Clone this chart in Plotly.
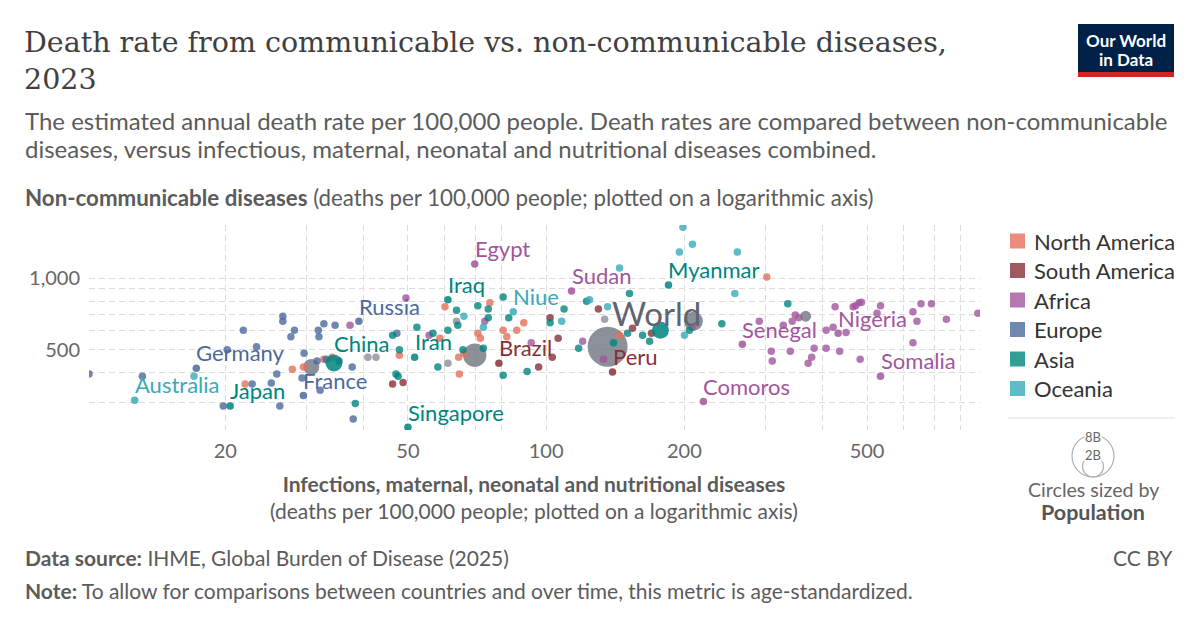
import numpy as np
import plotly.graph_objects as go

# plot area of the reference, in pixels (used only for placing the frame and the text around it)
PL, PR, PT, PB = 89, 980, 225, 430

region_names = ["North America", "South America", "Africa", "Europe", "Asia", "Oceania"]
region_colors = {
    "North America": "#E56E5A",
    "South America": "#883039",
    "Africa": "#A2559C",
    "Europe": "#4C6A9C",
    "Asia": "#00847E",
    "Oceania": "#38AABA",
}

# -------------------------------------------------
# Data: x = infectious/maternal/neonatal/nutritional deaths per 100k,
#       y = non-communicable deaths per 100k (age-standardized, 2023)
# -------------------------------------------------
north_america_x = [22.1, 28.0, 29.6, 32.8, 34.2, 47.9, 58.7, 60.2, 64.7, 64.5, 66.2, 71.0, 71.9, 75.4,
                   80.6, 82.1, 86.3, 89.4, 144.5, 302.4]
north_america_y = [359, 414, 423, 456, 465, 474, 559, 757, 395, 465, 483, 586, 559, 787,
                   603, 567, 603, 649, 575, 1010]

south_america_x = [46.3, 48.8, 96.3, 102.0, 103.1, 106.2, 130.0, 154.2, 169.6]
south_america_y = [359, 364, 423, 681, 465, 559, 742, 615, 586]

africa_x = [37.4, 49.5, 55.6, 73.5, 92.8, 120.1, 133.4, 208.3, 291.2, 309.3, 310.8, 328.5, 340.2,
            343.6, 348.8, 354.9, 372.1, 378.7, 383.5, 407.3, 407.3, 421.8, 435.7, 450.1, 426.0,
            466.3, 472.1, 480.4, 486.4, 483.0, 525.7, 535.0, 629.5, 629.5, 642.2, 655.2, 690.5,
            744.3, 871.6]
africa_y = [633, 825, 575, 658, 535, 543, 456, 621, 658, 493, 448, 633, 493,
            658, 700, 681, 439, 465, 507, 507, 603, 621, 493, 590, 757,
            757, 764, 787, 792, 456, 711, 764, 535, 721, 658, 779, 779,
            671, 711]

europe_x = [10.1, 13.2, 19.8, 20.2, 21.9, 22.9, 23.4, 25.2, 25.9, 26.3, 26.7, 26.7, 28.3, 27.8,
            29.7, 29.4, 31.9, 32.0, 32.8, 34.7, 33.2, 35.4, 31.7, 32.2, 37.8, 38.0, 47.3]
europe_y = [395, 387, 290, 500, 603, 359, 515, 362, 395, 290, 691, 658, 603, 567,
            483, 380, 603, 567, 642, 633, 456, 448, 448, 338, 423, 256, 586]

asia_x = [38.4, 46.3, 47.1, 47.6, 47.9, 52.3, 56.7, 58.1, 61.1, 63.8, 64.2, 65.9, 71.0, 74.8,
          74.8, 73.0, 80.6, 80.6, 82.9, 90.9, 102.0, 109.4, 117.7, 122.5, 140.2, 150.4, 151.9,
          162.2, 168.0, 205.1, 241.4, 336.0]
asia_y = [297, 575, 395, 387, 500, 621, 586, 423, 603, 732, 633, 500, 764, 742,
          681, 507, 833, 391, 681, 405, 649, 742, 507, 798, 535, 586, 862,
          575, 543, 603, 642, 779]

oceania_x = [17.1, 66.2, 73.0, 108.1, 124.3, 136.1, 144.5, 198.6, 208.3, 195.1, 260.9, 257.6, 200.1]
oceania_y = [387, 691, 621, 658, 810, 757, 1102, 1635, 1388, 1285, 1285, 862, 575]

# entities without a continent
other_x = [40.9, 42.6, 61.1, 63.8, 134.1]
other_y = [465, 465, 439, 658, 671]

# aggregates (grey bubbles), population in millions
aggregate_names = ["World", "Aggregate A", "Aggregate B", "Aggregate C", "Aggregate D"]
aggregate_x = [136.1, 69.9, 30.8, 209.3, 367.5]
aggregate_y = [515, 474, 423, 658, 691]
aggregate_pop = [8000, 2700, 1280, 1800, 600]

# labelled countries (and India, which sits under the "World" label)
named_country = ["Egypt", "Sudan", "Myanmar", "Niue", "Iraq", "Russia", "Germany", "China", "Iran",
                 "Brazil", "Peru", "Senegal", "Nigeria", "Somalia", "Comoros", "Australia", "Japan",
                 "France", "Singapore", "India"]
named_region = ["Africa", "Africa", "Asia", "Oceania", "Asia", "Europe", "Europe", "Asia", "Asia",
                "South America", "South America", "Africa", "Africa", "Africa", "Africa", "Oceania",
                "Asia", "Europe", "Asia", "Asia"]
named_x = [69.9, 113.6, 184.7, 84.8, 61.1, 39.1, 17.3, 34.5, 51.7,
           78.9, 139.5, 267.5, 432.5, 535.0, 220.1, 12.7, 20.5,
           29.6, 50.0, 177.4]
named_y = [1145, 883, 935, 721, 810, 658, 418, 439, 465,
           439, 403, 527, 586, 387, 303, 307, 290,
           321, 236, 603]
named_pop = [116, 50, 54, 0.002, 46, 144, 84, 1410, 91,
             211, 34, 18, 230, 19, 0.9, 27, 124,
             68, 6, 1440]
named_show = [True] * 19 + [False]

x_grid = [20, 30, 40, 50, 60, 70, 80, 100, 200, 300, 400, 500, 600, 700, 800]
x_labels = ["20", "", "", "50", "", "", "", "100", "200", "", "", "500", "", "", ""]
y_grid = [300, 400, 500, 600, 700, 800, 900, 1000]
y_labels = ["", "", "500", "", "", "", "", "1,000"]

MIN_DOT = 7.5


def bubble(pop):
    return max(MIN_DOT, 40 * np.sqrt(pop / 8000))


def px_x(px):
    return (px - PL) / (PR - PL)


def px_y(py):
    return (PB - py) / (PB - PT)


fig = go.Figure()

# grey aggregates underneath everything
fig.add_trace(go.Scatter(
    x=aggregate_x, y=aggregate_y, mode="markers", text=aggregate_names,
    marker=dict(size=[bubble(p) for p in aggregate_pop], color="#6f7480", opacity=0.8,
                line=dict(width=0)),
    hoverinfo="text",
))

fig.add_trace(go.Scatter(
    x=other_x, y=other_y, mode="markers",
    marker=dict(size=MIN_DOT, color="#8a8f99", opacity=0.8, line=dict(width=0)),
    hoverinfo="skip",
))

region_data = {
    "North America": (north_america_x, north_america_y),
    "South America": (south_america_x, south_america_y),
    "Africa": (africa_x, africa_y),
    "Europe": (europe_x, europe_y),
    "Asia": (asia_x, asia_y),
    "Oceania": (oceania_x, oceania_y),
}
for reg in region_names:
    xs, ys = region_data[reg]
    fig.add_trace(go.Scatter(
        x=xs, y=ys, mode="markers", name=reg,
        marker=dict(size=MIN_DOT, color=region_colors[reg], opacity=0.8, line=dict(width=0)),
    ))

# labelled countries on top
fig.add_trace(go.Scatter(
    x=named_x, y=named_y, mode="markers", text=named_country, hoverinfo="text",
    marker=dict(size=[bubble(p) for p in named_pop],
                color=[region_colors[r] for r in named_region], opacity=0.85,
                line=dict(width=0)),
))

annotations = []

# country labels, placed up-right of their bubble
for name, reg, xv, yv, pop, show in zip(named_country, named_region, named_x, named_y,
                                        named_pop, named_show):
    if not show:
        continue
    r = bubble(pop) / 2
    annotations.append(dict(
        x=np.log10(xv), y=np.log10(yv), xref="x", yref="y", text=name, showarrow=False,
        xanchor="left", yanchor="bottom", xshift=-2, yshift=r - 4,
        font=dict(family="Lato", size=22, color=region_colors[reg]),
    ))

# World label
annotations.append(dict(
    x=np.log10(aggregate_x[0]), y=np.log10(aggregate_y[0]), xref="x", yref="y", text="World",
    showarrow=False, xanchor="left", yanchor="bottom", xshift=2, yshift=bubble(8000) / 2 - 8,
    font=dict(family="Lato", size=33, color="#5f6470"),
))


def txt(text, px, py, size, color="#5b5b5b", xanchor="left", family="Lato", yanchor="middle"):
    annotations.append(dict(
        x=px_x(px), y=px_y(py), xref="paper", yref="paper", text=text, showarrow=False,
        xanchor=xanchor, yanchor=yanchor, align=xanchor if xanchor != "center" else "center",
        font=dict(family=family, size=size, color=color),
    ))


# header
txt("Death rate from communicable vs. non-communicable diseases,<br>2023", 22, 24, 28.5,
    color="#404040", family="DejaVu Serif", yanchor="top")
txt("The estimated annual death rate per 100,000 people. Death rates are compared between "
    "non-communicable", 23, 120, 24)
txt("diseases, versus infectious, maternal, neonatal and nutritional diseases combined.", 23, 148, 24)
txt("<b>Non-communicable diseases</b> (deaths per 100,000 people; plotted on a logarithmic axis)",
    23, 197, 22.3)

# x axis title
txt("<b>Infections, maternal, neonatal and nutritional diseases</b><br>"
    "(deaths per 100,000 people; plotted on a logarithmic axis)", 534, 497, 21, xanchor="center")

# footer
txt("<b>Data source:</b> IHME, Global Burden of Disease (2025)", 23, 557, 21)
txt("CC BY", 1175, 557, 21, xanchor="right")
txt("<b>Note:</b> To allow for comparisons between countries and over time, this metric is "
    "age-standardized.", 23, 590, 21)

shapes = []

# logo
shapes.append(dict(type="rect", xref="paper", yref="paper", x0=px_x(1078), x1=px_x(1174),
                   y0=px_y(72), y1=px_y(24), fillcolor="#002147", line=dict(width=0)))
shapes.append(dict(type="rect", xref="paper", yref="paper", x0=px_x(1078), x1=px_x(1174),
                   y0=px_y(77), y1=px_y(72), fillcolor="#ce261e", line=dict(width=0)))
txt("<b>Our World</b>", 1126, 40, 17, color="white", xanchor="center")
txt("<b>in Data</b>", 1126, 59, 17, color="white", xanchor="center")

# colour legend
for i, reg in enumerate(region_names):
    cy = 241 + i * 29.5
    shapes.append(dict(type="rect", xref="paper", yref="paper", x0=px_x(1010), x1=px_x(1025),
                       y0=px_y(cy + 7.5), y1=px_y(cy - 7.5), fillcolor=region_colors[reg],
                       opacity=0.8, line=dict(width=0)))
    txt(reg, 1032, cy, 22, color="#333333")

shapes.append(dict(type="line", xref="paper", yref="paper", x0=px_x(1008), x1=px_x(1175),
                   y0=px_y(418), y1=px_y(418), line=dict(color="#dddddd", width=1)))

# size legend
shapes.append(dict(type="circle", xref="paper", yref="paper", x0=px_x(1072), x1=px_x(1114),
                   y0=px_y(477), y1=px_y(435), line=dict(color="#b0b0b0", width=1.2)))
shapes.append(dict(type="circle", xref="paper", yref="paper", x0=px_x(1082.5), x1=px_x(1103.5),
                   y0=px_y(477), y1=px_y(456), line=dict(color="#b0b0b0", width=1.2)))
for lab, ly in (("8B", 437), ("2B", 455)):
    annotations.append(dict(x=px_x(1093), y=px_y(ly), xref="paper", yref="paper", text=lab,
                            showarrow=False, bgcolor="white", borderpad=0,
                            xanchor="center", yanchor="middle",
                            font=dict(family="Lato", size=13, color="#666666")))
txt("Circles sized by", 1093, 489, 19.6, color="#666666", xanchor="center")
txt("<b>Population</b>", 1093, 512, 21.5, color="#555555", xanchor="center")

fig.update_layout(
    width=1200, height=627,
    margin=dict(l=PL, r=1200 - PR, t=PT, b=627 - PB, pad=0),
    paper_bgcolor="white", plot_bgcolor="white",
    showlegend=False,
    font=dict(family="Lato", color="#5b5b5b"),
    annotations=annotations,
    shapes=shapes,
    xaxis=dict(
        type="log", range=[np.log10(10.1), np.log10(881)],
        tickvals=x_grid, ticktext=x_labels,
        showgrid=True, gridcolor="#dcdcdc", griddash="6px,4px", gridwidth=1,
        zeroline=False, showline=False,
        ticks="outside", ticklen=3, tickcolor="rgba(0,0,0,0)",
        tickfont=dict(family="Lato", size=20, color="#666666"),
    ),
    yaxis=dict(
        type="log", range=[np.log10(230), np.log10(1670)],
        tickvals=y_grid, ticktext=y_labels,
        showgrid=True, gridcolor="#dcdcdc", griddash="6px,4px", gridwidth=1,
        zeroline=False, showline=False,
        ticks="outside", ticklen=4, tickcolor="rgba(0,0,0,0)",
        tickfont=dict(family="Lato", size=20, color="#666666"),
    ),
)

fig.write_html("out.html", config={"displayModeBar": False},
               post_script="document.body.style.margin='0';")
